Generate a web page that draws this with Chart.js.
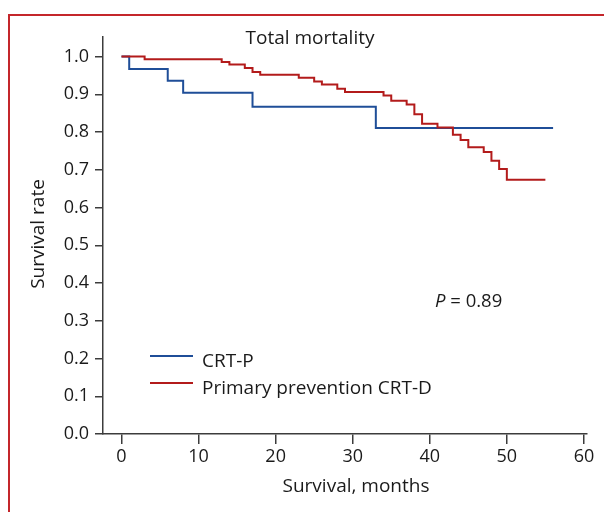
<!DOCTYPE html>
<html>
<head>
<meta charset="utf-8">
<title>Total mortality</title>
<script src="https://cdn.jsdelivr.net/npm/chart.js@4"></script>
<style>
  html, body { margin: 0; padding: 0; background: #fff; overflow: hidden; }
  #wrap { position: relative; width: 604px; height: 512px; }
  #frame {
    position: absolute; left: 8px; top: 14px; width: 700px; height: 600px;
    border-top: 2px solid #c4262b; border-left: 2px solid #c4262b;
  }
  #chart { position: absolute; left: 0; top: 0; }
</style>
</head>
<body>
<div id="wrap">
  <div id="frame"></div>
  <canvas id="chart" width="604" height="512"></canvas>
</div>
<script>
// Дані кривих Каплана-Мейєра
const crtpMonths = [0, 1, 6, 8, 17, 33, 56];
const crtpSurvival = [1.0, 0.967, 0.936, 0.904, 0.867, 0.811, 0.811];

const crtdMonths = [0, 3, 13, 14, 16, 17, 18, 23, 25, 26, 28, 29, 34, 35, 37, 38, 39, 41, 43, 44, 45, 47, 48, 49, 50, 55];
const crtdSurvival = [1.0, 0.993, 0.986, 0.979, 0.970, 0.959, 0.952, 0.944, 0.934, 0.926, 0.915, 0.906, 0.897, 0.883, 0.873, 0.847, 0.822, 0.812, 0.793, 0.779, 0.760, 0.747, 0.724, 0.702, 0.674, 0.674];

const xTicks = [0, 10, 20, 30, 40, 50, 60];
const yTicks = [0, 0.1, 0.2, 0.3, 0.4, 0.5, 0.6, 0.7, 0.8, 0.9, 1.0];

const seriesLabels = ['CRT-P', 'Primary prevention CRT-D'];
const chartTitle = 'Total mortality';
const xTitle = 'Survival, months';
const yTitle = 'Survival rate';
const pValue = '0.89';

const BLUE = '#1f4e98';
const RED = '#b31b1b';
const TEXT = '#1a1a1a';
const AXIS = '#3c3c3c';
const FONT = '"Open Sans", sans-serif';

function toPoints(xs, ys) {
  return xs.map((x, i) => ({ x: x, y: ys[i] }));
}

// Тексти: заголовок, підписи осей, легенда, P
const annotations = {
  id: 'annotations',
  afterDraw(chart) {
    const ctx = chart.ctx;
    ctx.save();
    ctx.fillStyle = TEXT;
    ctx.font = '19px ' + FONT;
    ctx.textBaseline = 'alphabetic';

    ctx.textAlign = 'center';
    ctx.fillText(chartTitle, 310, 44);
    ctx.fillText(xTitle, 356, 492);

    ctx.save();
    ctx.translate(44, 234);
    ctx.rotate(-Math.PI / 2);
    ctx.fillText(yTitle, 0, 0);
    ctx.restore();

    // легенда
    const legendRows = [
      { label: seriesLabels[0], color: BLUE, y: 356 },
      { label: seriesLabels[1], color: RED, y: 383 }
    ];
    ctx.textAlign = 'left';
    legendRows.forEach(row => {
      ctx.strokeStyle = row.color;
      ctx.lineWidth = 2;
      ctx.beginPath();
      ctx.moveTo(150, row.y);
      ctx.lineTo(193, row.y);
      ctx.stroke();
      ctx.fillText(row.label, 202, row.y + 10.5);
    });

    // P = 0.89
    ctx.font = 'italic 18.5px ' + FONT;
    ctx.fillText('P', 435, 307);
    const pw = ctx.measureText('P').width;
    ctx.font = '18.5px ' + FONT;
    ctx.fillText(' = ' + pValue, 435 + pw, 307);

    ctx.restore();
  }
};

function initChart() {
  const ctx = document.getElementById('chart').getContext('2d');

  new Chart(ctx, {
    type: 'line',
    data: {
      datasets: [{
        label: seriesLabels[0],
        data: toPoints(crtpMonths, crtpSurvival),
        borderColor: BLUE,
        borderWidth: 2,
        stepped: true,
        pointRadius: 0,
        fill: false,
        order: 1
      }, {
        label: seriesLabels[1],
        data: toPoints(crtdMonths, crtdSurvival),
        borderColor: RED,
        borderWidth: 2,
        stepped: true,
        pointRadius: 0,
        fill: false,
        order: 0
      }]
    },
    options: {
      responsive: false,
      animation: false,
      layout: { padding: { left: 0, right: 17, top: 37, bottom: 0 } },
      plugins: {
        legend: { display: false },
        title: { display: false },
        tooltip: { enabled: false }
      },
      scales: {
        x: {
          type: 'linear',
          min: -2.4,
          max: 60.4,
          afterBuildTicks: scale => { scale.ticks = xTicks.map(v => ({ value: v })); },
          afterFit: scale => { scale.height = 78; },
          border: { display: true, color: AXIS, width: 1.5 },
          grid: { drawOnChartArea: false, drawTicks: true, tickLength: 10, color: AXIS, lineWidth: 1.5 },
          ticks: { color: TEXT, font: { family: FONT, size: 18 }, padding: 2, maxRotation: 0 }
        },
        y: {
          type: 'linear',
          min: 0,
          max: 1.052,
          afterBuildTicks: scale => { scale.ticks = yTicks.map(v => ({ value: v })); },
          afterFit: scale => { scale.width = 103; },
          border: { display: true, color: AXIS, width: 1.5 },
          grid: { drawOnChartArea: false, drawTicks: true, tickLength: 8, color: AXIS, lineWidth: 1.5 },
          ticks: {
            color: TEXT,
            font: { family: FONT, size: 18 },
            padding: 6,
            callback: v => v.toFixed(1)
          }
        }
      }
    },
    plugins: [annotations]
  });
}

document.addEventListener('DOMContentLoaded', initChart);
</script>
</body>
</html>
